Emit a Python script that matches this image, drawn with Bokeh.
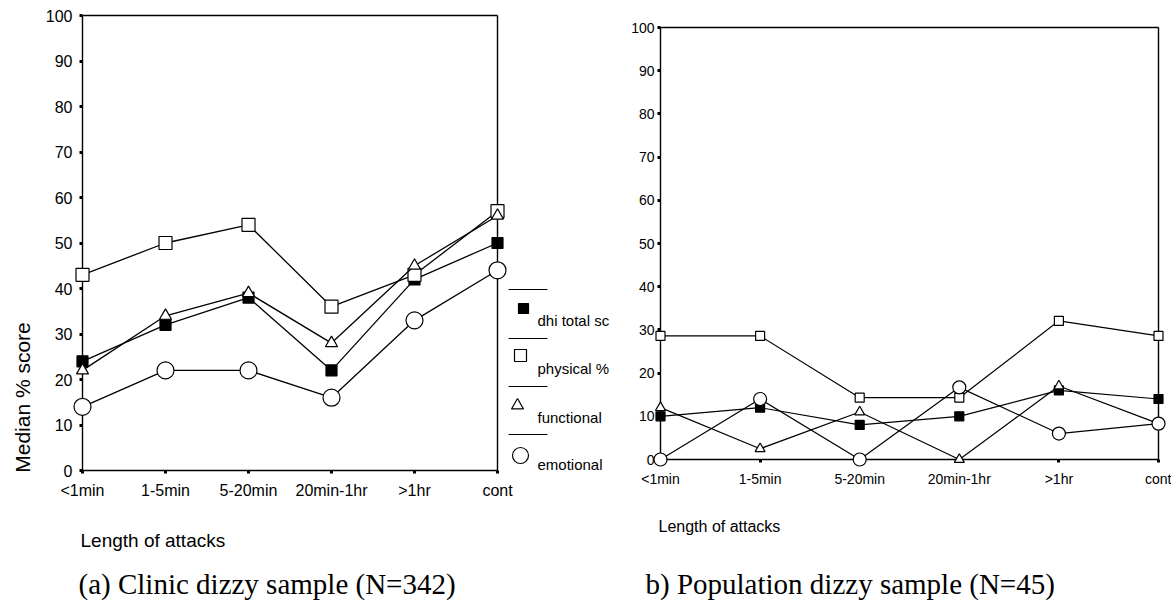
import math

from bokeh.plotting import figure
from bokeh.layouts import row
from bokeh.models import Range1d, FixedTicker, ColumnDataSource
from bokeh.core.properties import value
from bokeh.embed import file_html
from bokeh.resources import INLINE

# Attack-duration categories shared by both panels
categories = ["<1min", "1-5min", "5-20min", "20min-1hr", ">1hr", "cont"]
y_ticks = [0, 10, 20, 30, 40, 50, 60, 70, 80, 90, 100]

# (a) Clinic dizzy sample (N=342): median % scores
clinic_dhi_total = [24, 32, 38, 22, 42, 50]
clinic_physical = [43, 50, 54, 36, 43, 57]
clinic_functional = [22, 34, 39, 28, 45, 56]
clinic_emotional = [14, 22, 22, 16, 33, 44]

# (b) Population dizzy sample (N=45): median % scores
pop_dhi_total = [10, 12, 8, 10, 16, 14]
pop_physical = [28.6, 28.6, 14.3, 14.3, 32.1, 28.6]
pop_functional = [12, 2.5, 11, 0, 17, 8.3]
pop_emotional = [0, 14, 0, 16.7, 6, 8.3]

legend_labels = ["dhi total sc", "physical %", "functional", "emotional"]

FONT = "Liberation Sans"
SERIF = "Liberation Serif"

x_idx = list(range(len(categories)))
x_first, x_last = x_idx[0], x_idx[-1]
y_low, y_high = y_ticks[0], y_ticks[-1]

# marker style per series: (marker, fill colour)
styles = [
    ("square", "black"),
    ("square", "white"),
    ("triangle", "white"),
    ("circle", "white"),
]

# both figures share the same frame rows (the row layout aligns them)
FIG_H = 602
FRAME_TOP, FRAME_BOTTOM = 15, 132
frame_h = FIG_H - FRAME_TOP - FRAME_BOTTOM
frame_bottom_px = FIG_H - FRAME_BOTTOM


def make_panel(width, left, right, x_end, y_start, y_end, zero_gap, series,
               sizes, tick_font, label_standoff_x, label_standoff_y, line_w):
    p = figure(
        width=width, height=FIG_H, title=None,
        x_range=Range1d(0, x_end), y_range=Range1d(y_start, y_end),
        output_backend="svg", toolbar_location=None,
        min_border_left=left, min_border_right=right,
        min_border_top=FRAME_TOP, min_border_bottom=FRAME_BOTTOM,
        background_fill_color="white", border_fill_color="white",
    )
    p.outline_line_color = None
    p.xgrid.visible = False
    p.ygrid.visible = False

    p.xaxis.ticker = FixedTicker(ticks=x_idx)
    p.xaxis.major_label_overrides = {i: c for i, c in enumerate(categories)}
    p.yaxis.ticker = FixedTicker(ticks=y_ticks)
    for ax in (p.xaxis, p.yaxis):
        ax.axis_line_color = None
        ax.major_tick_in = 0
        ax.major_tick_out = 3
        ax.major_tick_line_width = 3
        ax.major_tick_line_color = "black"
        ax.minor_tick_line_color = None
        ax.major_label_text_font = FONT
        ax.major_label_text_font_size = tick_font
        ax.major_label_text_color = "black"
    # when the zero line sits above the frame edge, lift the x ticks onto it
    p.xaxis.major_tick_in = zero_gap
    p.xaxis.major_tick_out = 3 - zero_gap
    p.xaxis.major_label_standoff = label_standoff_x
    p.yaxis.major_label_standoff = label_standoff_y

    # plot box: axes at 0 / first category, closed at 100 / last category
    p.segment(x0=[x_first, x_first, x_first, x_last],
              x1=[x_last, x_last, x_first, x_last],
              y0=[y_low, y_high, y_low, y_low],
              y1=[y_low, y_high, y_high, y_high],
              line_color="black", line_width=1.4, level="overlay")

    for vals, (marker, fill), size in zip(series, styles, sizes):
        src = ColumnDataSource(dict(x=x_idx, y=vals))
        p.line("x", "y", source=src, line_color="black", line_width=line_w,
               level="overlay")
        p.scatter("x", "y", source=src, marker=marker, size=size,
                  fill_color=fill, line_color="black", line_width=1.2,
                  level="overlay")
    return p


def add_text(p, x, y, text, font, size, angle=0.0, align="left"):
    p.text(x=[x], y=[y], text=[text], angle=angle,
           text_font=value(font), text_font_size=size, text_color="black",
           text_align=align, text_baseline="middle", level="overlay")


# ---------------- left panel ----------------
L_W = 614
L_LEFT = 82
L_PLOT_W = 415                       # span from first to last category
l_px_x = L_PLOT_W / (len(categories) - 1)
l_px_y = frame_h / (y_high - y_low)
l_x_end = (L_W - L_LEFT) / l_px_x    # frame runs on under the legend

left = make_panel(L_W, L_LEFT, 0, l_x_end, y_low, y_high, 0,
                  [clinic_dhi_total, clinic_physical, clinic_functional, clinic_emotional],
                  [11, 13, 12, 17], "16px", 8, 7, 1.3)


def lx(px):
    return (px - L_LEFT) / l_px_x


def ly(py):
    return (frame_bottom_px - py) / l_px_y


# legend right of the plot box: a rule line above each key
rule_y = [289, 338, 386, 434]
key_x = [523, 520, 517, 520]
key_y = [308, 355, 405, 455]
text_y = [320, 368, 417, 464]
key_sizes = [10, 12, 12, 16]

left.segment(x0=[lx(508)] * 4, x1=[lx(547)] * 4,
             y0=[ly(v) for v in rule_y], y1=[ly(v) for v in rule_y],
             line_color="black", line_width=1, level="overlay")
for (marker, fill), kx, ky, ks in zip(styles, key_x, key_y, key_sizes):
    left.scatter([lx(kx)], [ly(ky)], marker=marker, size=ks, fill_color=fill,
                 line_color="black", line_width=1.2, level="overlay")
left.text(x=[lx(537)] * 4, y=[ly(v) for v in text_y], text=legend_labels,
          text_font=value(FONT), text_font_size="15px", text_color="black",
          text_baseline="middle", text_align="left", level="overlay")

add_text(left, lx(22), ly(397), "Median % score", FONT, "21px",
         angle=math.pi / 2, align="center")
add_text(left, lx(80), ly(540), "Length of attacks", FONT, "19px")
add_text(left, lx(78), ly(583), "(a) Clinic dizzy sample (N=342)", SERIF, "29px")

# ---------------- right panel ----------------
R_W = 1171 - L_W
R_LEFT, R_RIGHT = 660 - L_W, 13
R_TOP_PX, R_ZERO_PX = 27, 459        # where 100 and 0 sit in this panel
r_px_x = (R_W - R_LEFT - R_RIGHT) / (len(categories) - 1)
r_px_y = (R_ZERO_PX - R_TOP_PX) / (y_high - y_low)
r_y_start = y_low - (frame_bottom_px - R_ZERO_PX) / r_px_y
r_y_end = y_high + (R_TOP_PX - FRAME_TOP) / r_px_y

right = make_panel(R_W, R_LEFT, R_RIGHT, x_last, r_y_start, r_y_end,
                   frame_bottom_px - R_ZERO_PX,
                   [pop_dhi_total, pop_physical, pop_functional, pop_emotional],
                   [9, 9, 10, 13], "14px", 0, 3, 1.2)


def rx(px):
    return (px - L_W - R_LEFT) / r_px_x


def ry(py):
    return (R_ZERO_PX - py) / r_px_y


add_text(right, rx(658), ry(526), "Length of attacks", FONT, "16px")
add_text(right, rx(645), ry(583), "b)  Population dizzy sample (N=45)", SERIF, "29px")

layout = row(left, right, spacing=0)
open("out.html", "w").write(file_html(layout, INLINE))
